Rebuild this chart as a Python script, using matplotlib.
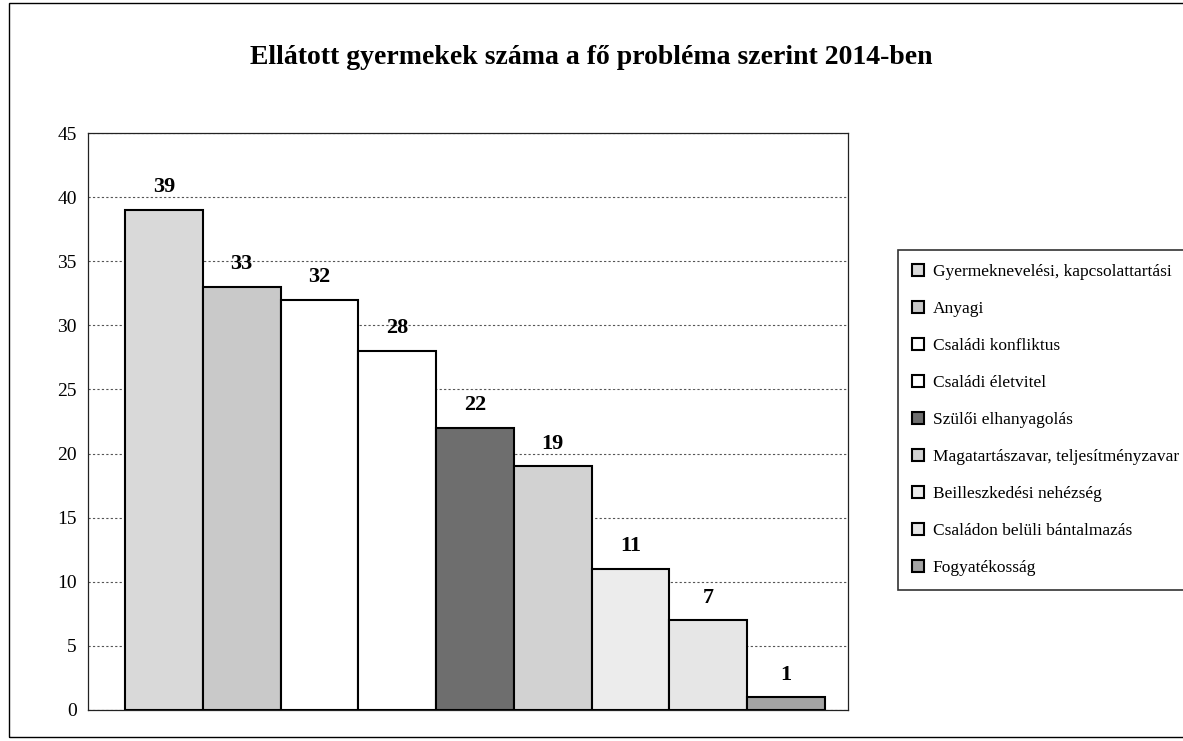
import matplotlib
matplotlib.use('Agg')
import matplotlib.pyplot as plt
from matplotlib.patches import Rectangle

plt.rcParams['font.family'] = ['Liberation Serif', 'DejaVu Serif']

categories = [
    'Gyermeknevelési, kapcsolattartási',
    'Anyagi',
    'Családi konfliktus',
    'Családi életvitel',
    'Szülői elhanyagolás',
    'Magatartászavar, teljesítményzavar',
    'Beilleszkedési nehézség',
    'Családon belüli bántalmazás',
    'Fogyatékosság',
]
values = [39, 33, 32, 28, 22, 19, 11, 7, 1]
bar_colors = ['#d9d9d9', '#c9c9c9', '#ffffff', '#ffffff', '#6e6e6e',
              '#d2d2d2', '#ececec', '#e6e6e6', '#a4a4a4']
yticks = list(range(0, 50, 5))

fig = plt.figure(figsize=(11.83, 7.41), dpi=100)
fig.patch.set_facecolor('white')
ax = fig.add_axes([88 / 1183, 1 - 710 / 741, 760 / 1183, 577 / 741])

# outer chart border (scan)
fig.patches.append(Rectangle((0.008, 0.006), 1.0, 0.99, transform=fig.transFigure,
                             fill=False, edgecolor='black', linewidth=1.0))

for i, (cat, v, c) in enumerate(zip(categories, values, bar_colors)):
    ax.bar(i, v, width=1.0, color=c, edgecolor='black', linewidth=1.5,
           label=cat, zorder=3)
    ax.annotate(str(v), (i, v), xytext=(0, 9), textcoords='offset points',
                ha='center', va='bottom', fontsize=16, fontweight='bold')

ax.set_xlim(-0.976, 8.796)
ax.set_ylim(0, 45)
ax.set_yticks(yticks)
ax.set_xticks([])
ax.tick_params(axis='y', labelsize=14, length=0, pad=8)
ax.yaxis.grid(True, linestyle=(0, (2, 2)), color='#555555', linewidth=0.8, zorder=0)
for s in ax.spines.values():
    s.set_linewidth(0.9)
    s.set_color('#222222')

fig.text(0.5, 1 - 57 / 741, 'Ellátott gyermekek száma a fő probléma szerint 2014-ben',
         ha='center', va='center', fontsize=20, fontweight='bold')

leg = fig.legend(loc='upper left', bbox_to_anchor=(898 / 1183, 1 - 250 / 741),
                 fontsize=12.5, frameon=True, fancybox=False, edgecolor='black',
                 handlelength=0.7, handleheight=0.7, handletextpad=0.5,
                 labelspacing=1.2, borderpad=0.8, borderaxespad=0)
leg.get_frame().set_linewidth(1.2)

fig.savefig('out.png', dpi=100, facecolor='white')
plt.close(fig)
